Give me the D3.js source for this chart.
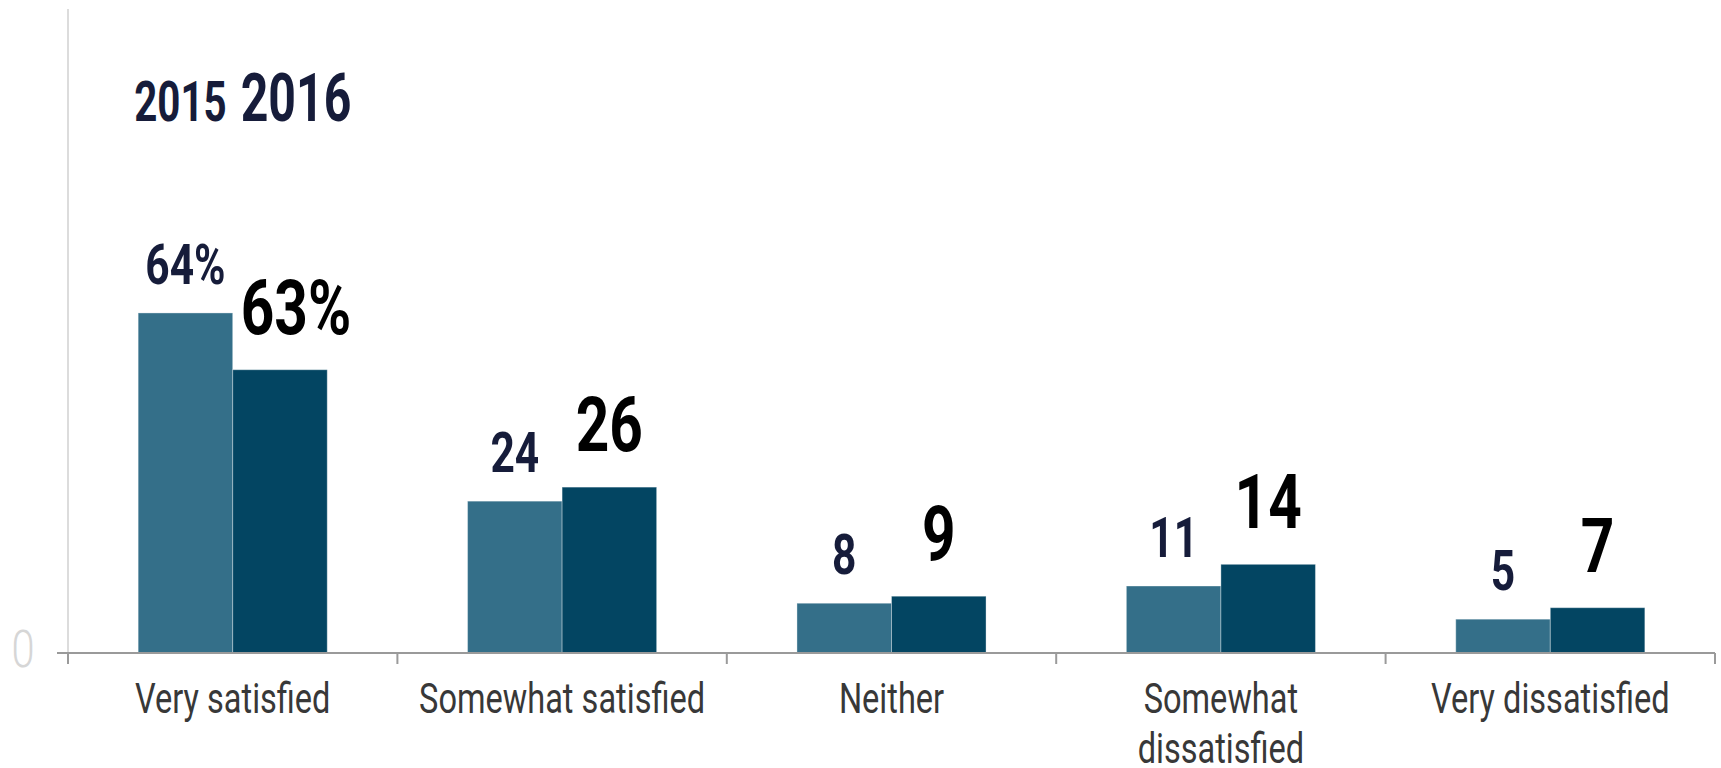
<!DOCTYPE html>
<html>
<head>
<meta charset="utf-8">
<script src="https://cdn.jsdelivr.net/npm/d3@7"></script>
<style>
  body { margin: 0; background: #fff; }
  text { font-family: Roboto, "Noto Sans", sans-serif; }
</style>
</head>
<body>
<div id="chart"></div>
<script>
var categories = ["Very satisfied", "Somewhat satisfied", "Neither", "Somewhat dissatisfied", "Very dissatisfied"];
var years = ["2015", "2016"];
// bar heights as drawn in the picture
var bars2015 = [53.3, 23.8, 7.8, 10.5, 5.3];
var bars2016 = [44.4, 26, 8.9, 13.9, 7.1];
// printed labels
var labels2015 = ["64%", "24", "8", "11", "5"];
var labels2016 = ["63%", "26", "9", "14", "7"];
var yTicks = [0];

var W = 1721, H = 768;
var plotLeft = 68, plotRight = 1715, base = 653, plotTop = 15;
var SX = 0.775; // condensed look

var svg = d3.select("#chart").append("svg")
	.attr("width", W)
	.attr("height", H);

var x0 = d3.scaleBand()
	.domain(categories)
	.range([plotLeft, plotRight])
	.paddingInner(0.426)
	.paddingOuter(0.213);

var x1 = d3.scaleBand()
	.domain(years)
	.range([0, x0.bandwidth()]);

var y = d3.scaleLinear()
	.domain([0, 100])
	.range([base, plotTop]);

var rows = categories.map(function(c, i) {
	return {cat: c, v: [bars2015[i], bars2016[i]], l: [labels2015[i], labels2016[i]]};
});

// y axis line
svg.append("line")
	.attr("x1", plotLeft).attr("x2", plotLeft)
	.attr("y1", 9).attr("y2", base)
	.attr("stroke", "#dcdcdc")
	.attr("stroke-width", 2);

svg.selectAll(".ytick")
	.data(yTicks)
	.enter().append("text")
	.attr("transform", function(d) { return "translate(23," + (y(d) + 14) + ") scale(0.8,1)"; })
	.attr("text-anchor", "middle")
	.attr("font-size", 52)
	.attr("font-weight", 300)
	.attr("fill", "#d6d6d6")
	.text(function(d) { return d; });

// bars
var colors = {"2015": "#346f89", "2016": "#034562"};
var g = svg.selectAll(".grp")
	.data(rows)
	.enter().append("g")
	.attr("transform", function(d) { return "translate(" + x0(d.cat) + ",0)"; });

g.selectAll("rect")
	.data(function(d) { return years.map(function(yr, k) { return {yr: yr, v: d.v[k]}; }); })
	.enter().append("rect")
	.attr("x", function(d) { return x1(d.yr); })
	.attr("width", x1.bandwidth())
	.attr("y", function(d) { return y(d.v); })
	.attr("height", function(d) { return base - y(d.v); })
	.attr("fill", function(d) { return colors[d.yr]; })
	.attr("stroke", "rgba(255,255,255,0.35)")
	.attr("stroke-width", 1);

// value labels
g.append("text")
	.attr("transform", function(d) {
		return "translate(" + (x1("2015") + x1.bandwidth() / 2) + "," + (y(d.v[0]) - 29) + ") scale(0.76,1)";
	})
	.attr("text-anchor", "middle")
	.attr("font-size", 56)
	.attr("font-weight", 700)
	.attr("fill", "#161c3a")
	.text(function(d) { return d.l[0]; });

g.append("text")
	.attr("transform", function(d, i) {
		var dx = i === 0 ? 16 : 0;
		return "translate(" + (x1("2016") + x1.bandwidth() / 2 + dx) + "," + (y(d.v[1]) - 36) + ") scale(0.77,1)";
	})
	.attr("text-anchor", "middle")
	.attr("font-size", 76)
	.attr("font-weight", 700)
	.attr("fill", "#000")
	.text(function(d) { return d.l[1]; });

// x axis
var xa = svg.append("g");
xa.append("line")
	.attr("x1", 57).attr("x2", plotRight)
	.attr("y1", base).attr("y2", base)
	.attr("stroke", "#9a9a9a")
	.attr("stroke-width", 2);

var bounds = categories.map(function(c) { return x0(c) - x0.step() * 0.213; });
bounds.push(plotRight);
xa.selectAll(".tick")
	.data(bounds)
	.enter().append("line")
	.attr("x1", function(d) { return d; }).attr("x2", function(d) { return d; })
	.attr("y1", base).attr("y2", base + 11)
	.attr("stroke", "#9a9a9a")
	.attr("stroke-width", 2);

var catText = xa.selectAll(".cat")
	.data(categories)
	.enter().append("text")
	.attr("transform", function(d) { return "translate(" + (x0(d) + x0.bandwidth() / 2) + "," + (base + 60) + ") scale(" + SX + ",1)"; })
	.attr("text-anchor", "middle")
	.attr("font-size", 42)
	.attr("font-weight", 400)
	.attr("fill", "#383838")
	.text(function(d) { return d; });

catText.each(function() {
	var t = d3.select(this);
	if (this.getComputedTextLength() * SX > x0.step() * 0.95) {
		var words = t.text().split(" ");
		t.text(null);
		words.forEach(function(w, k) {
			t.append("tspan").attr("x", 0).attr("dy", k === 0 ? 0 : 50).text(w);
		});
	}
});

// legend
var mid = x0(categories[0]) + x0.bandwidth() / 2;
svg.append("text")
	.attr("transform", "translate(" + (mid - 6) + ",121) scale(0.72,1)")
	.attr("text-anchor", "end")
	.attr("font-size", 56)
	.attr("font-weight", 700)
	.attr("fill", "#161c3a")
	.text(years[0]);
svg.append("text")
	.attr("transform", "translate(" + (mid + 8) + ",121) scale(0.72,1)")
	.attr("text-anchor", "start")
	.attr("font-size", 67)
	.attr("font-weight", 700)
	.attr("fill", "#161c3a")
	.text(years[1]);
</script>
</body>
</html>
